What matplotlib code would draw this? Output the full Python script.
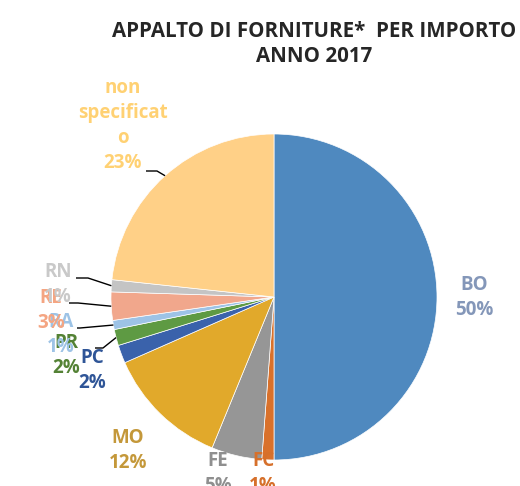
import numpy as np
import matplotlib
matplotlib.use("Agg")
import matplotlib.pyplot as plt

# ---- data ----
categories = ["BO", "FC", "FE", "MO", "PC", "PR", "RA", "RE", "RN", "non\nspecificat\no"]
values = [50.0, 1.2, 5.0, 12.2, 1.8, 1.6, 0.9, 2.8, 1.2, 23.3]
title = "APPALTO DI FORNITURE*  PER IMPORTO\nANNO 2017"

# ---- style ----
slice_colors = ["#4F89BF", "#D9712B", "#969696", "#E1A92B", "#3A62AB",
                "#5E9A43", "#9DC3E6", "#F1A78C", "#C4C4C4", "#FFD087"]
label_colors = ["#8497B9", "#D6702B", "#8F8F8F", "#C4983A", "#2F5597",
                "#548235", "#9DC3E6", "#F4A582", "#C9C9C9", "#FFD173"]
label_pos = [(474, 285), (263, 461), (218, 461), (128, 438), (92, 358),
             (66, 343), (61, 322), (51, 298), (58, 272), (123, 138)]
line_gap = 25
leaders = {9: [(146, 171), (157, 171)],
           8: [(76, 278), (88, 278)],
           7: [(69, 303), (78, 303)],
           6: [(77, 328), (80, 328)],
           5: [(95, 348), (103, 348)]}

W, H = 520, 486
cx, cy, R = 274, 297, 163

plt.rcParams['font.family'] = ['Open Sans', 'DejaVu Sans']
fig = plt.figure(figsize=(W / 100, H / 100), dpi=100)
ax = fig.add_axes([0, 0, 1, 1])

def Y(y):
    return H - y

wedges, _ = ax.pie(values, colors=slice_colors, startangle=90, counterclock=False,
                   center=(cx, Y(cy)), radius=R,
                   wedgeprops=dict(linewidth=0.5, edgecolor='white'))
ax.set_xlim(0, W)
ax.set_ylim(0, H)
ax.set_aspect('equal')
ax.axis('off')

total = sum(values)
for i, (cat, v) in enumerate(zip(categories, values)):
    pct = f"{round(v / total * 100):d}%"
    lx, ly = label_pos[i]
    lines = cat.split("\n")
    n = len(lines)
    for k, ln in enumerate(lines):
        yy = ly - (n - 1 - k) * line_gap
        ax.text(lx, Y(yy), ln, ha='center', va='center', fontsize=13.5,
                fontweight='bold', color=label_colors[i])
    ax.text(lx, Y(ly + line_gap), pct, ha='center', va='center', fontsize=13.5,
            fontweight='bold', color=label_colors[i])

for i, pts in leaders.items():
    w = wedges[i]
    ang = np.deg2rad((w.theta1 + w.theta2) / 2)
    ex = cx + R * np.cos(ang)
    ey = Y(cy) + R * np.sin(ang)
    xs = [p[0] for p in pts] + [ex]
    ys = [Y(p[1]) for p in pts] + [ey]
    ax.plot(xs, ys, color='black', lw=1.0, solid_capstyle='butt')

ax.text(314, Y(44), title, ha='center', va='center', fontsize=14.8,
        fontweight='bold', color='#262626', linespacing=1.3)

fig.savefig("out.png", dpi=100)
